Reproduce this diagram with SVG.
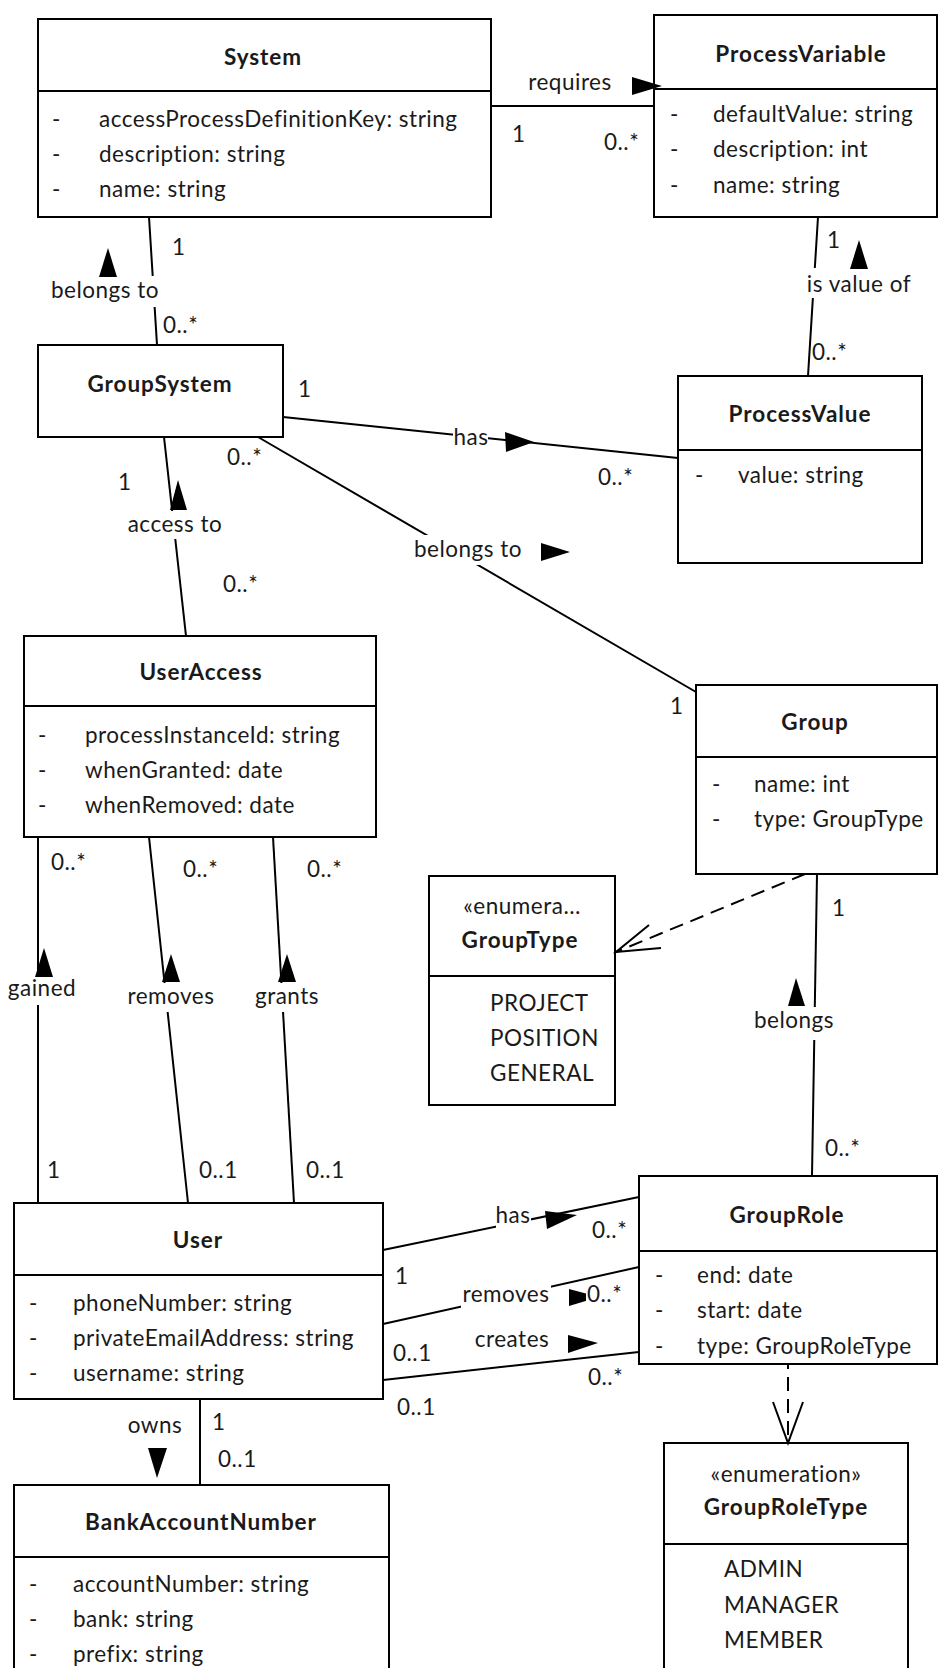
<svg xmlns="http://www.w3.org/2000/svg" width="938" height="1668" viewBox="0 0 938 1668">
<defs>
<style>
.box{fill:#fff;stroke:#000;stroke-width:2}
.sep{stroke:#000;stroke-width:2}
text{font-family:Lato,"Noto Sans",sans-serif;font-size:22.5px;letter-spacing:0.5px;fill:#1a1a1a}
.ttl{font-weight:bold;text-anchor:middle;letter-spacing:0.95px}
.c{text-anchor:middle}
.ln{stroke:#000;stroke-width:2;fill:none}
.dsh{stroke-dasharray:14 8}
.bg{fill:#fff}
.tri{fill:#000}
</style>
</defs>
<rect width="938" height="1668" fill="#fff"/>

<!-- classes -->
<g id="system">
<rect class="box" x="38" y="19" width="453" height="198"/>
<line class="sep" x1="38" y1="91" x2="491" y2="91"/>
<text class="ttl" x="263" y="65">System</text>
<text x="52" y="127">-</text><text x="99" y="127">accessProcessDefinitionKey: string</text>
<text x="52" y="162">-</text><text x="99" y="162">description: string</text>
<text x="52" y="197">-</text><text x="99" y="197">name: string</text>
</g>

<g id="processVariable">
<rect class="box" x="654" y="15" width="283" height="202"/>
<line class="sep" x1="654" y1="89" x2="937" y2="89"/>
<text class="ttl" x="801" y="62">ProcessVariable</text>
<text x="670" y="122">-</text><text x="713" y="122">defaultValue: string</text>
<text x="670" y="157">-</text><text x="713" y="157">description: int</text>
<text x="670" y="193">-</text><text x="713" y="193">name: string</text>
</g>

<g id="groupSystem">
<rect class="box" x="38" y="345" width="245" height="92"/>
<text class="ttl" x="160" y="392">GroupSystem</text>
</g>

<g id="processValue">
<rect class="box" x="678" y="376" width="244" height="187"/>
<line class="sep" x1="678" y1="450" x2="922" y2="450"/>
<text class="ttl" x="800" y="422">ProcessValue</text>
<text x="695" y="483">-</text><text x="738" y="483">value: string</text>
</g>

<g id="userAccess">
<rect class="box" x="24" y="636" width="352" height="201"/>
<line class="sep" x1="24" y1="706" x2="376" y2="706"/>
<text class="ttl" x="201" y="680">UserAccess</text>
<text x="38" y="743">-</text><text x="85" y="743">processInstanceId: string</text>
<text x="38" y="778">-</text><text x="85" y="778">whenGranted: date</text>
<text x="38" y="813">-</text><text x="85" y="813">whenRemoved: date</text>
</g>

<g id="group">
<rect class="box" x="696" y="685" width="241" height="189"/>
<line class="sep" x1="696" y1="757" x2="937" y2="757"/>
<text class="ttl" x="815" y="730">Group</text>
<text x="712" y="792">-</text><text x="754" y="792">name: int</text>
<text x="712" y="827">-</text><text x="754" y="827">type: GroupType</text>
</g>

<g id="groupType">
<rect class="box" x="429" y="876" width="186" height="229"/>
<line class="sep" x1="429" y1="976" x2="615" y2="976"/>
<text class="c" x="522" y="914">«enumera…</text>
<text class="ttl" x="520" y="948">GroupType</text>
<text x="490" y="1011">PROJECT</text>
<text x="490" y="1046">POSITION</text>
<text x="490" y="1081">GENERAL</text>
</g>

<g id="user">
<rect class="box" x="14" y="1203" width="369" height="196"/>
<line class="sep" x1="14" y1="1275" x2="383" y2="1275"/>
<text class="ttl" x="198" y="1248">User</text>
<text x="29" y="1311">-</text><text x="73" y="1311">phoneNumber: string</text>
<text x="29" y="1346">-</text><text x="73" y="1346">privateEmailAddress: string</text>
<text x="29" y="1381">-</text><text x="73" y="1381">username: string</text>
</g>

<g id="groupRole">
<rect class="box" x="639" y="1176" width="298" height="188"/>
<line class="sep" x1="639" y1="1251" x2="937" y2="1251"/>
<text class="ttl" x="787" y="1223">GroupRole</text>
<text x="655" y="1283">-</text><text x="697" y="1283">end: date</text>
<text x="655" y="1318">-</text><text x="697" y="1318">start: date</text>
<text x="655" y="1354">-</text><text x="697" y="1354">type: GroupRoleType</text>
</g>

<g id="groupRoleType">
<rect class="box" x="664" y="1443" width="244" height="240"/>
<line class="sep" x1="664" y1="1544" x2="908" y2="1544"/>
<text class="c" x="786" y="1482">«enumeration»</text>
<text class="ttl" x="786" y="1515">GroupRoleType</text>
<text x="724" y="1577">ADMIN</text>
<text x="724" y="1613">MANAGER</text>
<text x="724" y="1648">MEMBER</text>
</g>

<g id="bankAccountNumber">
<rect class="box" x="14" y="1485" width="375" height="200"/>
<line class="sep" x1="14" y1="1557" x2="389" y2="1557"/>
<text class="ttl" x="201" y="1530">BankAccountNumber</text>
<text x="29" y="1592">-</text><text x="73" y="1592">accountNumber: string</text>
<text x="29" y="1627">-</text><text x="73" y="1627">bank: string</text>
<text x="29" y="1662">-</text><text x="73" y="1662">prefix: string</text>
</g>

<!-- associations and dependencies -->
<g id="connectors">
<!-- System requires ProcessVariable -->
<line class="ln" x1="491" y1="106" x2="654" y2="106"/>
<text class="c" x="570" y="90">requires</text>
<polygon class="tri" points="632,77 662,86 632,95"/>
<text x="512" y="142">1</text>
<text x="604" y="150">0..*</text>

<!-- GroupSystem belongs to System -->
<line class="ln" x1="149" y1="217" x2="157" y2="345"/>
<rect class="bg" x="51" y="276" width="110" height="31"/>
<text class="c" x="105" y="298">belongs to</text>
<polygon class="tri" points="108,248 117,277 99,277"/>
<text x="172" y="255">1</text>
<text x="163" y="333">0..*</text>

<!-- ProcessValue is value of ProcessVariable -->
<line class="ln" x1="818" y1="217" x2="808" y2="376"/>
<rect class="bg" x="805" y="268" width="110" height="30"/>
<text class="c" x="859" y="292">is value of</text>
<polygon class="tri" points="859,240 868,269 850,269"/>
<text x="827" y="248">1</text>
<text x="812" y="360">0..*</text>

<!-- GroupSystem has ProcessValue -->
<line class="ln" x1="283" y1="417" x2="678" y2="458"/>
<rect class="bg" x="453" y="424" width="35" height="29"/>
<text class="c" x="471" y="445">has</text>
<polygon class="tri" points="505,432 534,442 506,452"/>
<text x="298" y="397">1</text>
<text x="598" y="485">0..*</text>

<!-- GroupSystem belongs to Group -->
<line class="ln" x1="258" y1="437" x2="696" y2="692"/>
<rect class="bg" x="414" y="535" width="109" height="30"/>
<text class="c" x="468" y="557">belongs to</text>
<polygon class="tri" points="541,543 570,552 541,561"/>
<text x="227" y="465">0..*</text>
<text x="670" y="714">1</text>

<!-- UserAccess access to GroupSystem -->
<line class="ln" x1="164" y1="437" x2="186" y2="636"/>
<rect class="bg" x="128" y="511" width="95" height="28"/>
<text class="c" x="175" y="532">access to</text>
<polygon class="tri" points="178,480 187,510 170,510"/>
<text x="118" y="490">1</text>
<text x="223" y="592">0..*</text>

<!-- User gained UserAccess -->
<line class="ln" x1="38" y1="837" x2="38" y2="1203"/>
<rect class="bg" x="7" y="977" width="70" height="28"/>
<text class="c" x="42" y="996">gained</text>
<polygon class="tri" points="44,948 53,977 35,977"/>
<text x="51" y="870">0..*</text>
<text x="47" y="1178">1</text>

<!-- User removes UserAccess -->
<line class="ln" x1="149" y1="837" x2="188" y2="1203"/>
<rect class="bg" x="126" y="983" width="90" height="29"/>
<text class="c" x="171" y="1004">removes</text>
<polygon class="tri" points="171,954 180,982 162,982"/>
<text x="183" y="877">0..*</text>
<text x="199" y="1178">0..1</text>

<!-- User grants UserAccess -->
<line class="ln" x1="273" y1="837" x2="294" y2="1203"/>
<rect class="bg" x="254" y="983" width="66" height="29"/>
<text class="c" x="287" y="1004">grants</text>
<polygon class="tri" points="287,954 296,982 278,982"/>
<text x="307" y="877">0..*</text>
<text x="306" y="1178">0..1</text>

<!-- Group uses GroupType -->
<line class="ln dsh" x1="805" y1="874" x2="616" y2="952"/>
<polyline class="ln" points="649,925 616,952 661,948"/>

<!-- GroupRole belongs Group -->
<line class="ln" x1="817" y1="874" x2="812" y2="1176"/>
<rect class="bg" x="754" y="1007" width="81" height="33"/>
<text class="c" x="794" y="1028">belongs</text>
<polygon class="tri" points="796,978 805,1006 788,1006"/>
<text x="832" y="916">1</text>
<text x="825" y="1156">0..*</text>

<!-- User has GroupRole -->
<line class="ln" x1="383" y1="1250" x2="639" y2="1197"/>
<rect class="bg" x="496" y="1203" width="35" height="27"/>
<text class="c" x="513" y="1223">has</text>
<polygon class="tri" points="545,1211 577,1215 547,1229"/>
<text x="395" y="1284">1</text>
<text x="592" y="1238">0..*</text>

<!-- User removes GroupRole -->
<line class="ln" x1="383" y1="1324" x2="639" y2="1267"/>
<rect class="bg" x="461" y="1282" width="90" height="27"/>
<text class="c" x="506" y="1302">removes</text>
<polygon class="tri" points="569,1289 599,1297 569,1306"/>
<rect class="bg" x="586" y="1284" width="34" height="22"/>
<text x="587" y="1302">0..*</text>
<text x="393" y="1361">0..1</text>

<!-- User creates GroupRole -->
<line class="ln" x1="383" y1="1380" x2="639" y2="1352"/>
<text class="c" x="512" y="1347">creates</text>
<polygon class="tri" points="568,1335 598,1343 568,1353"/>
<text x="397" y="1415">0..1</text>
<text x="588" y="1385">0..*</text>

<!-- GroupRole uses GroupRoleType -->
<line class="ln dsh" x1="788" y1="1364" x2="788" y2="1443" stroke-dashoffset="-13"/>
<polyline class="ln" points="773,1402 788,1443 803,1402"/>

<!-- User owns BankAccountNumber -->
<line class="ln" x1="200" y1="1399" x2="200" y2="1485"/>
<text class="c" x="155" y="1433">owns</text>
<polygon class="tri" points="148,1448 167,1448 157,1478"/>
<text x="212" y="1430">1</text>
<text x="218" y="1467">0..1</text>
</g>
</svg>
